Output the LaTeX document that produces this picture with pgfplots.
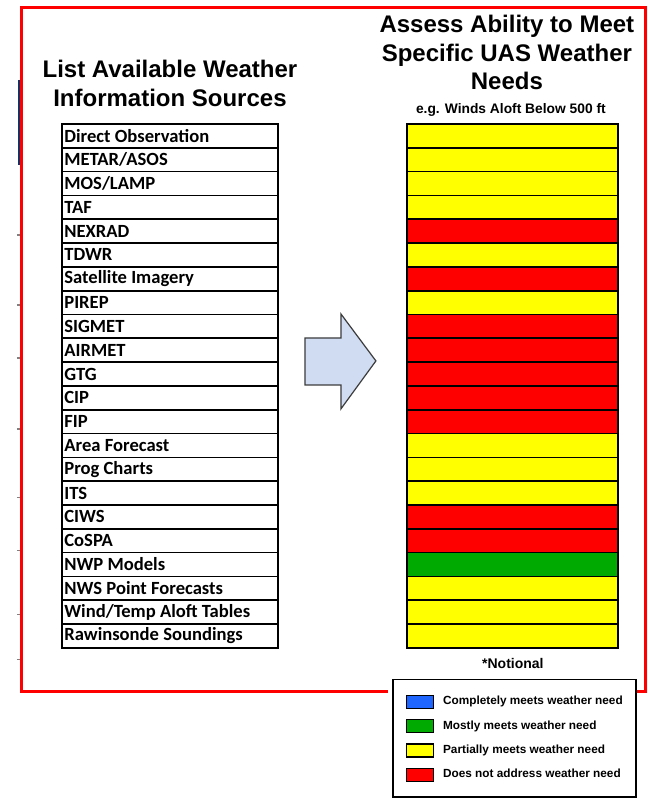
\documentclass[border=0pt]{standalone}
\usepackage{pgfplots}
\pgfplotsset{compat=1.18}
\usepackage{fontspec}
\setmainfont{Liberation Sans}
\newfontfamily\calibri{Carlito}
\definecolor{ryel}{RGB}{255,255,0}
\definecolor{rred}{RGB}{255,0,0}
\definecolor{rgreen}{RGB}{0,170,0}
\definecolor{rblue}{RGB}{31,102,255}
\definecolor{arrowfill}{RGB}{208,220,242}
\definecolor{arrowdraw}{RGB}{60,60,60}
\definecolor{stray}{RGB}{20,50,100}
\begin{document}
\begin{tikzpicture}
% ---------- main canvas (pixel coordinates) ----------
\begin{axis}[name=main, at={(0pt,0pt)}, anchor=north west, scale only axis,
  width=324pt, height=399pt, xmin=0, xmax=648, ymin=0, ymax=798, y dir=reverse,
  axis lines=none, ticks=none, clip=false,
  legend cell align=left,
  legend image code/.code={\draw[#1, line width=0.7pt] (0pt,-3.25pt) rectangle (13.5pt,3.25pt);},
  legend style={at={(axis cs:392,679)}, anchor=north west, draw=black, line width=0.8pt,
    fill=white, inner xsep=6.5pt, inner ysep=7.5pt, row sep=5pt,
    font=\bfseries\fontsize{5.9}{7}\selectfont, nodes={inner xsep=0pt, inner ysep=0pt},
    /tikz/every odd column/.style={column sep=4.5pt}}]
\addplot[fill=white, draw=none, forget plot] coordinates {(0,0) (648,0) (648,798) (0,798)} -- cycle;
% stray marks at left edge
\addplot[stray, line width=1.2pt, forget plot] coordinates {(19,80) (19,165)};
\addplot[gray, line width=0.6pt, forget plot] coordinates {(17,235) (20,235)};
\addplot[gray, line width=0.6pt, forget plot] coordinates {(17,305) (20,305)};
\addplot[gray, line width=0.6pt, forget plot] coordinates {(17,358) (20,358)};
\addplot[gray, line width=0.6pt, forget plot] coordinates {(17,429) (20,429)};
\addplot[gray, line width=0.6pt, forget plot] coordinates {(17,498) (20,498)};
\addplot[gray, line width=0.6pt, forget plot] coordinates {(17,551) (20,551)};
\addplot[gray, line width=0.6pt, forget plot] coordinates {(17,615) (20,615)};
\addplot[gray, line width=0.6pt, forget plot] coordinates {(17,660) (20,660)};
% red frame
\addplot[rred, line width=1.5pt, forget plot] coordinates {(388,692) (22,692) (22,7) (646,7) (646,692) (637,692)};
% arrow
\addplot[fill=arrowfill, draw=arrowdraw, line width=0.6pt, forget plot]
  coordinates {(305,338) (341,338) (341,314) (376,361) (341,409) (341,385) (305,385)} -- cycle;
% titles
\node[anchor=base, font=\bfseries\fontsize{12}{14}\selectfont] at (axis cs:170,78) {List Available Weather};
\node[anchor=base, font=\bfseries\fontsize{12}{14}\selectfont] at (axis cs:170,107) {Information Sources};
\node[anchor=base, font=\bfseries\fontsize{12}{14}\selectfont] at (axis cs:507,32) {Assess Ability to Meet};
\node[anchor=base, font=\bfseries\fontsize{12}{14}\selectfont] at (axis cs:507,62) {Specific UAS Weather};
\node[anchor=base, font=\bfseries\fontsize{12}{14}\selectfont] at (axis cs:507,90) {Needs};
\node[anchor=base, font=\bfseries\fontsize{6.9}{8}\selectfont] at (axis cs:511,114) {e.g. Winds Aloft Below 500 ft};
\node[anchor=base, font=\bfseries\fontsize{7}{8}\selectfont] at (axis cs:513,669) {*Notional};
% legend
\addlegendimage{fill=rblue, draw=black}
\addlegendentry{Completely meets weather need}
\addlegendimage{fill=rgreen, draw=black}
\addlegendentry{Mostly meets weather need}
\addlegendimage{fill=ryel, draw=black}
\addlegendentry{Partially meets weather need}
\addlegendimage{fill=rred, draw=black}
\addlegendentry{Does not address weather need}
\end{axis}
% ---------- left table: information sources ----------
\begin{axis}[at={(31pt,-62pt)}, anchor=north west, scale only axis,
  width=108pt, height=262pt, xmin=0, xmax=1, ymin=0.5, ymax=22.5, y dir=reverse,
  xbar, bar width=1, bar shift=0pt, axis line style={draw=none}, xtick=\empty,
  ytick={1,...,22}, major tick length=0pt, clip=false,
  yticklabels={Direct Observation, METAR/ASOS, MOS/LAMP, TAF, NEXRAD, TDWR, Satellite Imagery, PIREP, SIGMET, AIRMET, GTG, CIP, FIP, Area Forecast, Prog Charts, ITS, CIWS, CoSPA, NWP Models, NWS Point Forecasts, Wind/Temp Aloft Tables, Rawinsonde Soundings},
  yticklabel style={anchor=west, inner sep=1pt, font=\calibri\bfseries\fontsize{9.3}{11}\selectfont}]
\addplot[fill=none, draw=black, line width=0.85pt]
  coordinates {(1,1) (1,2) (1,3) (1,4) (1,5) (1,6) (1,7) (1,8) (1,9) (1,10) (1,11) (1,12) (1,13) (1,14) (1,15) (1,16) (1,17) (1,18) (1,19) (1,20) (1,21) (1,22)};
\end{axis}
% ---------- right column: ability ratings ----------
\begin{axis}[at={(203.5pt,-62pt)}, anchor=north west, scale only axis,
  width=105.5pt, height=262pt, xmin=0, xmax=1, ymin=0.5, ymax=22.5, y dir=reverse,
  xbar, bar width=1, bar shift=0pt, axis lines=none, ticks=none, clip=false]
\addplot[fill=ryel, draw=black, line width=0.85pt, bar shift=0pt]
  coordinates {(1,1) (1,2) (1,3) (1,4) (1,6) (1,8) (1,14) (1,15) (1,16) (1,20) (1,21) (1,22)};
\addplot[fill=rred, draw=black, line width=0.85pt, bar shift=0pt]
  coordinates {(1,5) (1,7) (1,9) (1,10) (1,11) (1,12) (1,13) (1,17) (1,18)};
\addplot[fill=rgreen, draw=black, line width=0.85pt, bar shift=0pt]
  coordinates {(1,19)};
\end{axis}
\end{tikzpicture}
\end{document}
